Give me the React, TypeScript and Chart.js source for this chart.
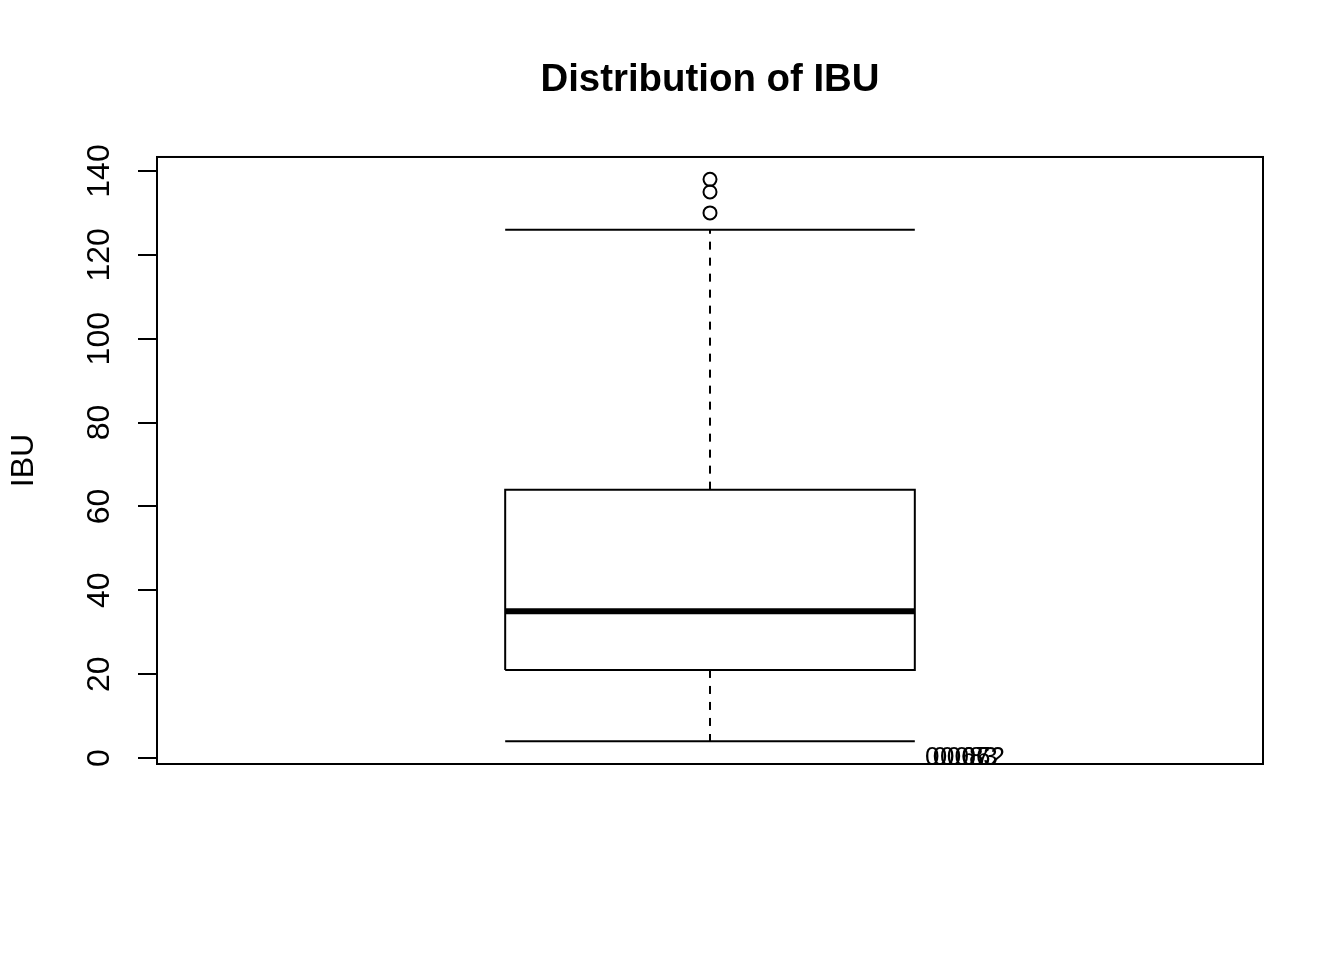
import { useEffect, useRef } from 'react';
import { Chart, registerables } from 'chart.js';

Chart.register(...registerables);

// five-number summary
const boxCenter = 1;
const boxHalfWidth = 0.2;
const lowerWhisker = 4;
const q1 = 21;
const median = 35;
const q3 = 64;
const upperWhisker = 126;
const outliers = [130, 135, 138];

const yTicks = [0, 20, 40, 60, 80, 100, 120, 140];

// overlapping labels printed at y = 0, right of the box
const noteLabels = ['0.067', '0.083', '0.062'];
const noteX = [1.21, 1.2175, 1.2245];
const noteY = 0;

const FONT = '"Liberation Sans", Arial, sans-serif';

const line = (pts: { x: number; y: number }[], width: number, dash: number[] = []) => ({
  data: pts,
  showLine: true,
  borderColor: '#000',
  borderWidth: width,
  borderDash: dash,
  borderJoinStyle: 'miter' as const,
  borderCapStyle: 'butt' as const,
  pointRadius: 0,
  fill: false,
});

const framePlugin = {
  id: 'frameAndNotes',
  afterDatasetsDraw(chart: Chart) {
    const { ctx, chartArea: a, scales } = chart;
    ctx.save();
    ctx.beginPath();
    ctx.rect(a.left, a.top, a.right - a.left, a.bottom - a.top);
    ctx.clip();
    ctx.fillStyle = '#000';
    ctx.font = `26px ${FONT}`;
    ctx.textAlign = 'left';
    ctx.textBaseline = 'middle';
    noteLabels.forEach((t, i) => {
      ctx.fillText(t, scales.x.getPixelForValue(noteX[i]), scales.y.getPixelForValue(noteY));
    });
    ctx.restore();

    ctx.save();
    ctx.strokeStyle = '#000';
    ctx.lineWidth = 2;
    ctx.strokeRect(a.left, a.top, a.right - a.left, a.bottom - a.top);
    ctx.restore();
  },
};

export default function App() {
  const canvasRef = useRef<HTMLCanvasElement>(null);

  useEffect(() => {
    document.body.style.margin = '0';
    if (!canvasRef.current) return;
    const l = boxCenter - boxHalfWidth;
    const r = boxCenter + boxHalfWidth;
    const chart = new Chart(canvasRef.current, {
      type: 'scatter',
      data: {
        datasets: [
          line([{ x: boxCenter, y: q3 }, { x: boxCenter, y: upperWhisker }], 2, [8, 8]),
          line([{ x: boxCenter, y: q1 }, { x: boxCenter, y: lowerWhisker }], 2, [8, 8]),
          line([{ x: l, y: upperWhisker }, { x: r, y: upperWhisker }], 2),
          line([{ x: l, y: lowerWhisker }, { x: r, y: lowerWhisker }], 2),
          line([
            { x: l, y: q1 }, { x: r, y: q1 }, { x: r, y: q3 }, { x: l, y: q3 }, { x: l, y: q1 },
          ], 2),
          line([{ x: l, y: median }, { x: r, y: median }], 6),
          {
            data: outliers.map((v) => ({ x: boxCenter, y: v })),
            showLine: false,
            pointRadius: 6.5,
            pointBorderWidth: 2,
            pointBorderColor: '#000',
            pointBackgroundColor: 'rgba(0,0,0,0)',
          },
        ],
      },
      options: {
        animation: false,
        responsive: true,
        maintainAspectRatio: false,
        layout: { padding: { top: 57, left: 0, right: 81, bottom: 196 } },
        plugins: {
          legend: { display: false },
          tooltip: { enabled: false },
          title: {
            display: true,
            fullSize: false,
            text: 'Distribution of IBU',
            color: '#000',
            font: { family: FONT, size: 38.4, weight: 'bold' },
            padding: { top: 0, bottom: 53.9 },
          },
        },
        scales: {
          x: { type: 'linear', min: 0.46, max: 1.54, display: false },
          y: {
            type: 'linear',
            min: -1.43,
            max: 143.34,
            afterBuildTicks: (s) => { s.ticks = yTicks.map((v) => ({ value: v })); },
            afterFit: (s) => { s.width = 157; },
            border: { display: false },
            grid: {
              drawOnChartArea: false,
              drawTicks: true,
              tickLength: 19,
              color: '#000',
              lineWidth: 2,
            },
            ticks: {
              autoSkip: false,
              minRotation: 90,
              maxRotation: 90,
              crossAlign: 'center',
              padding: 11,
              color: '#000',
              font: { family: FONT, size: 32 },
            },
            title: {
              display: true,
              text: 'IBU',
              color: '#000',
              font: { family: FONT, size: 32 },
              padding: { top: 5.3, bottom: 0 },
            },
          },
        },
      },
      plugins: [framePlugin],
    });
    return () => { chart.destroy(); };
  }, []);

  return (
    <div style={{ position: 'relative', width: 1344, height: 960, background: '#fff' }}>
      <canvas ref={canvasRef} />
    </div>
  );
}
